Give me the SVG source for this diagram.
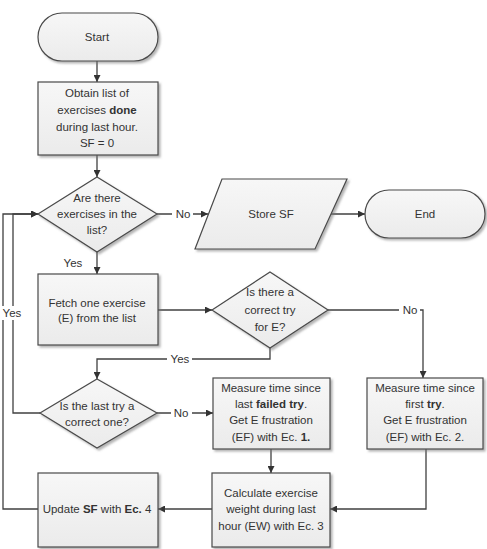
<svg xmlns="http://www.w3.org/2000/svg" width="487" height="549" viewBox="0 0 487 549">
<style>
.s{fill:url(#g);stroke:#4a4a4a;stroke-width:1.2;filter:url(#sh)}
.t{font-family:"Liberation Sans",Arial,sans-serif;font-size:11.5px;fill:#333;text-anchor:middle}
.c{fill:none;stroke:#404040;stroke-width:1.3}
.lb{fill:#fff}
.b{font-weight:bold}
</style>
<defs>
<linearGradient id="g" x1="0" y1="0" x2="0" y2="1"><stop offset="0" stop-color="#f7f7f7"/><stop offset="1" stop-color="#ebebeb"/></linearGradient>
<filter id="sh" x="-10%" y="-10%" width="130%" height="130%"><feDropShadow dx="2" dy="2" stdDeviation="1.2" flood-color="#777" flood-opacity="0.55"/></filter>
<marker id="a" viewBox="0 0 10 10" refX="10" refY="5" markerWidth="7" markerHeight="7" markerUnits="userSpaceOnUse" orient="auto"><path d="M0,0 L10,5 L0,10 z" fill="#333"/></marker>
</defs>
<g id="connectors">
<path class="c" d="M97,61 V82" marker-end="url(#a)"/>
<path class="c" d="M97,155 V177" marker-end="url(#a)"/>
<path class="c" d="M157,214 H208" marker-end="url(#a)"/>
<path class="c" d="M331,214 H365" marker-end="url(#a)"/>
<path class="c" d="M97,252 V274" marker-end="url(#a)"/>
<path class="c" d="M158,310 H212" marker-end="url(#a)"/>
<path class="c" d="M270,348 V359 H97 V379" marker-end="url(#a)"/>
<path class="c" d="M328,310 H423 V378" marker-end="url(#a)"/>
<path class="c" d="M157,413 H213" marker-end="url(#a)"/>
<path class="c" d="M271,449 V473" marker-end="url(#a)"/>
<path class="c" d="M426,449 V509 H330" marker-end="url(#a)"/>
<path class="c" d="M212,509 H158" marker-end="url(#a)"/>
<path class="c" d="M40,413 H13 V214 H38" marker-end="url(#a)"/>
<path class="c" d="M38,509 H3 V214 H38" marker-end="url(#a)"/>
<rect class="lb" x="172" y="207" width="21" height="14"/>
<text class="t" x="183" y="218">No</text>
<text class="t" x="73" y="267">Yes</text>
<rect class="lb" x="167" y="352" width="25" height="14"/>
<text class="t" x="180" y="363">Yes</text>
<rect class="lb" x="399" y="303" width="21" height="14"/>
<text class="t" x="410" y="314">No</text>
<rect class="lb" x="171" y="406" width="21" height="14"/>
<text class="t" x="181" y="417">No</text>
<rect class="lb" x="1" y="306" width="22" height="14"/>
<text class="t" x="12" y="317">Yes</text>
</g>
<g id="start"><rect class="s" x="38" y="13" width="120" height="48" rx="24"/><text class="t" x="97" y="41">Start</text></g>
<g id="obtain"><rect class="s" x="38" y="82" width="120" height="73"/>
<text class="t" x="97" y="97">Obtain list of</text>
<text class="t" x="97" y="114">exercises <tspan class="b">done</tspan></text>
<text class="t" x="97" y="131">during last hour.</text>
<text class="t" x="97" y="147">SF = 0</text></g>
<g id="d1"><polygon class="s" points="97,177 157,214 97,252 38,214"/>
<text class="t" x="97" y="202">Are there</text>
<text class="t" x="97" y="218">exercises in the</text>
<text class="t" x="97" y="234">list?</text></g>
<g id="store"><polygon class="s" points="222,179 347,179 315,249 195,249"/><text class="t" x="271" y="218">Store SF</text></g>
<g id="end"><rect class="s" x="365" y="190" width="120" height="48" rx="24"/><text class="t" x="425" y="218">End</text></g>
<g id="fetch"><rect class="s" x="38" y="274" width="120" height="71"/>
<text class="t" x="97" y="307">Fetch one exercise</text>
<text class="t" x="97" y="322">(E) from the list</text></g>
<g id="d2"><polygon class="s" points="270,272 328,310 270,348 212,310"/>
<text class="t" x="270" y="296">Is there a</text>
<text class="t" x="270" y="314">correct try</text>
<text class="t" x="270" y="331">for E?</text></g>
<g id="d3"><polygon class="s" points="97,379 157,413 97,448 40,413"/>
<text class="t" x="97" y="410">Is the last try a</text>
<text class="t" x="97" y="426">correct one?</text></g>
<g id="mlast"><rect class="s" x="213" y="378" width="117" height="71"/>
<text class="t" x="271" y="392">Measure time since</text>
<text class="t" x="271" y="408">last <tspan class="b">failed try</tspan>.</text>
<text class="t" x="271" y="424">Get E frustration</text>
<text class="t" x="271" y="441">(EF) with Ec. <tspan class="b">1.</tspan></text></g>
<g id="mfirst"><rect class="s" x="367" y="378" width="116" height="71"/>
<text class="t" x="425" y="392">Measure time since</text>
<text class="t" x="425" y="408">first <tspan class="b">try</tspan>.</text>
<text class="t" x="425" y="424">Get E frustration</text>
<text class="t" x="425" y="441">(EF) with Ec. 2.</text></g>
<g id="calc"><rect class="s" x="212" y="473" width="118" height="74"/>
<text class="t" x="271" y="497">Calculate exercise</text>
<text class="t" x="271" y="513">weight during last</text>
<text class="t" x="271" y="530">hour (EW) with Ec. 3</text></g>
<g id="update"><rect class="s" x="38" y="473" width="120" height="74"/>
<text class="t" x="97" y="513">Update <tspan class="b">SF</tspan> with <tspan class="b">Ec.</tspan> 4</text></g>
</svg>
